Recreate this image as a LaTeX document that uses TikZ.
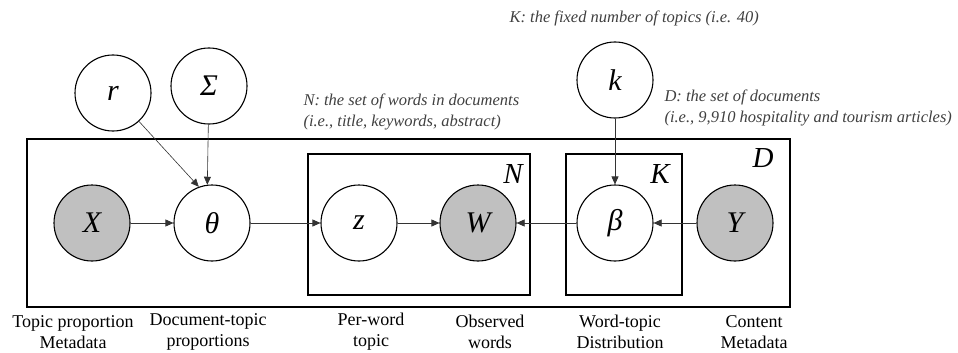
\documentclass[tikz,border=0pt]{standalone}
\usepackage{fontspec}
\setmainfont{Liberation Serif}
\usetikzlibrary{arrows.meta,positioning}
\definecolor{obsgray}{RGB}{192,192,192}
\definecolor{notegray}{RGB}{64,64,64}

\begin{document}
\begin{tikzpicture}[x=1pt, y=-1pt,
    var/.style={circle, draw, line width=1.1pt, minimum size=76pt, inner sep=0pt, fill=white, font=\fontsize{30}{34}\selectfont\itshape},
    obs/.style={var, fill=obsgray},
    plate/.style={draw, line width=1.3pt},
    platelab/.style={font=\fontsize{29}{34}\selectfont\itshape},
    arr/.style={-{Triangle[length=8pt, width=7pt]}, line width=0.6pt, black!80},
    note/.style={font=\fontsize{16.5}{21}\selectfont\itshape, text=notegray, align=left, anchor=west},
    caption/.style={font=\fontsize{18}{21}\selectfont, align=center}
]
    \useasboundingbox (0,0) rectangle (958,353);

    % plates
    \draw[plate] (27,139) rectangle (790,307);
    \draw[plate] (308,154) rectangle (530,295);
    \draw[plate] (566,154) rectangle (682,295);
    \node[platelab] (Dlab) at (763,158) {D};
    \node[platelab] (Nlab) at (513,174) {N};
    \node[platelab] (Klab) at (660,174) {K};

    % variables
    \node[var] (r) at (113,93) {r};
    \node[var] (sigma) at (209,86) {Σ};
    \node[var] (k) at (615,80) {k};
    \node[obs] (X) at (92,223) {X};
    \node[var] (theta) at (212,223) {θ};
    \node[var] (z) at (359,223) {z};
    \node[obs] (W) at (478,223) {W};
    \node[var] (beta) at (615,223) {β};
    \node[obs] (Y) at (735,223) {Y};

    % edges
    \draw[arr] (r) -- (theta.110);
    \draw[arr] (sigma) -- (theta.97);
    \draw[arr] (X) -- (theta);
    \draw[arr] (theta) -- (z);
    \draw[arr] (z) -- (W);
    \draw[arr] (beta) -- (W);
    \draw[arr] (Y) -- (beta);
    \draw[arr] (k) -- (beta);

    % notes
    \node[note] (Knote) at (506,18) {K: the fixed number of topics (i.e. 40)};
    \node[note] (Nnote) at (300,112) {N: the set of words in documents\\(i.e., title, keywords, abstract)};
    \node[note] (Dnote) at (661,108) {D: the set of documents\\(i.e., 9,910 hospitality and tourism articles)};

    % captions
    \node[caption] (Xcap) at (73,332) {Topic proportion\\Metadata};
    \node[caption] (thetacap) at (208,332) {Document-topic\\proportions};
    \node[caption] (zcap) at (371,332) {Per-word\\topic};
    \node[caption] (Wcap) at (490,332) {Observed\\words};
    \node[caption] (betacap) at (620,332) {Word-topic\\Distribution};
    \node[caption] (Ycap) at (754,332) {Content\\Metadata};
\end{tikzpicture}
\end{document}
